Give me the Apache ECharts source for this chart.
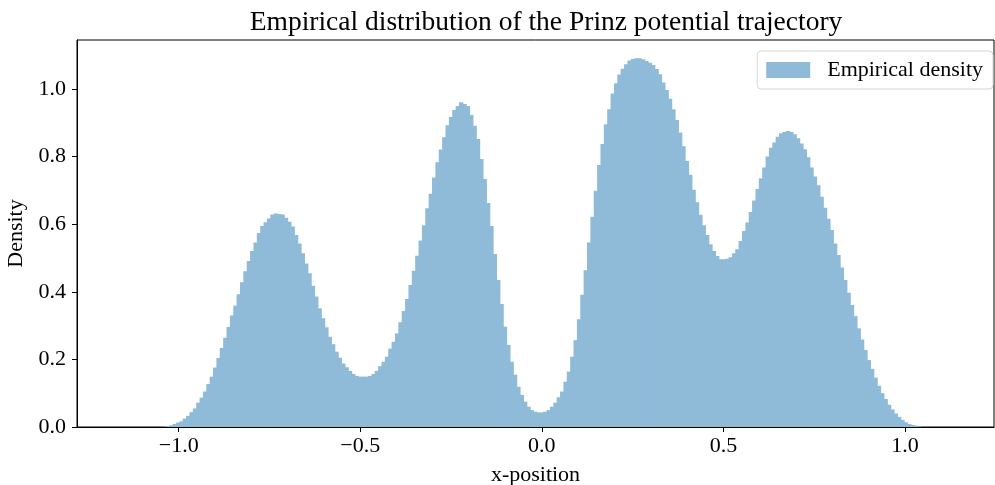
<!DOCTYPE html>
<html>
<head>
<meta charset="utf-8">
<script src="https://cdn.jsdelivr.net/npm/echarts@6/dist/echarts.min.js"></script>
<style>
  html, body { margin: 0; padding: 0; background: #fff; }
  #hist { width: 995px; height: 485px; }
</style>
</head>
<body>
<div id="hist"></div>
<script>
// histogram bins: left edge of the first bin and bin width (x-position units)
const binStart = -1.0446;
const binWidth = 0.009277;

// density per bin
const density = [
  0.001, 0.003,
  0.005, 0.009, 0.013, 0.017, 0.025, 0.033, 0.044, 0.055, 0.072, 0.087, 0.105,
  0.127, 0.149, 0.176, 0.204, 0.234, 0.264, 0.296, 0.330, 0.359, 0.393, 0.428,
  0.461, 0.491, 0.521, 0.546, 0.574, 0.595, 0.606, 0.617, 0.629, 0.632, 0.630,
  0.629, 0.619, 0.607, 0.593, 0.568, 0.543, 0.514, 0.484, 0.455, 0.418, 0.386,
  0.351, 0.322, 0.295, 0.267, 0.245, 0.223, 0.205, 0.188, 0.177, 0.166, 0.157,
  0.151, 0.149, 0.149, 0.149, 0.151, 0.157, 0.166, 0.180, 0.193, 0.208, 0.232,
  0.252, 0.277,
  0.310, 0.343, 0.379, 0.420, 0.462, 0.507, 0.552, 0.597, 0.647, 0.690, 0.738,
  0.783, 0.821, 0.857, 0.893, 0.917, 0.938, 0.950, 0.961, 0.956, 0.950, 0.923,
  0.891, 0.852, 0.793, 0.734, 0.663, 0.595, 0.512, 0.435, 0.364, 0.297, 0.243,
  0.193, 0.155,
  0.119, 0.095, 0.075, 0.060, 0.050, 0.045, 0.043, 0.043, 0.045, 0.050, 0.060,
  0.072, 0.088, 0.105, 0.134, 0.164, 0.208, 0.257, 0.319, 0.391, 0.464, 0.546,
  0.622, 0.699, 0.775, 0.837, 0.896, 0.940, 0.987, 1.017, 1.043, 1.060, 1.073,
  1.084, 1.089, 1.091,
  1.091, 1.088, 1.083, 1.078, 1.071, 1.059, 1.044, 1.019, 0.997, 0.971, 0.940,
  0.908, 0.871, 0.831, 0.787, 0.746, 0.702, 0.665, 0.628, 0.597, 0.568, 0.541,
  0.521, 0.506, 0.496, 0.496, 0.498, 0.502, 0.514, 0.526, 0.550, 0.580, 0.605,
  0.636, 0.670, 0.704,
  0.736, 0.768, 0.800, 0.826, 0.842, 0.859, 0.869, 0.873, 0.876, 0.873, 0.866,
  0.854, 0.839, 0.822, 0.798, 0.768, 0.741, 0.715, 0.681, 0.649, 0.616, 0.583,
  0.543, 0.509, 0.472, 0.435, 0.397, 0.361, 0.328, 0.292, 0.259, 0.228, 0.198,
  0.172, 0.146, 0.122, 0.100, 0.083, 0.066, 0.052, 0.040, 0.030, 0.021, 0.014,
  0.009, 0.006, 0.004, 0.002
];

const xTicks = [-1.0, -0.5, 0.0, 0.5, 1.0];
const yTicks = [0.0, 0.2, 0.4, 0.6, 0.8, 1.0];

// [left edge, right edge, density]
const bins = density.map((d, i) => [binStart + i * binWidth, binStart + (i + 1) * binWidth, d]);

const serif = 'Liberation Serif';
const fmt = v => v.toFixed(1).replace('-', '\u2212');
// C0 at alpha 0.5 over white, kept opaque so neighbouring bars leave no seams
const barColor = '#8fbbd9';

const chart = echarts.init(document.getElementById('hist'));

const option = {
  animation: false,
  backgroundColor: '#fff',
  title: {
    text: 'Empirical distribution of the Prinz potential trajectory',
    left: 541,
    top: 4,
    textAlign: 'center',
    textStyle: { fontFamily: serif, fontSize: 27.5, fontWeight: 'normal', color: '#000' }
  },
  legend: {
    right: 2,
    top: 51,
    icon: 'rect',
    itemWidth: 44,
    itemHeight: 16,
    padding: [8, 10, 8, 9],
    borderColor: '#d5d5d5',
    borderWidth: 1,
    borderRadius: 4,
    backgroundColor: 'rgba(255,255,255,0.8)',
    textStyle: { fontFamily: serif, fontSize: 22, color: '#000', padding: [0, 0, 0, 12] },
    data: ['Empirical density']
  },
  grid: {
    left: 77,
    right: 1,
    top: 40,
    bottom: 58,
    containLabel: false,
    outerBoundsMode: 'none',
    show: true,
    borderColor: '#000',
    borderWidth: 1
  },
  xAxis: {
    type: 'value',
    min: -1.28,
    max: 1.245,
    name: 'x-position',
    nameLocation: 'middle',
    nameGap: 37,
    nameTextStyle: { fontFamily: serif, fontSize: 22, color: '#000' },
    axisLine: { onZero: false, lineStyle: { color: '#000', width: 1 } },
    axisTick: { length: 5, lineStyle: { color: '#000' }, customValues: xTicks },
    axisLabel: { fontFamily: serif, fontSize: 22, color: '#000', margin: 8, customValues: xTicks, formatter: fmt },
    splitLine: { show: false }
  },
  yAxis: {
    type: 'value',
    min: 0,
    max: 1.145,
    name: 'Density',
    nameLocation: 'middle',
    nameRotate: 90,
    nameGap: 50,
    nameTextStyle: { fontFamily: serif, fontSize: 22, color: '#000' },
    axisLine: { show: true, onZero: false, lineStyle: { color: '#000', width: 1 } },
    axisTick: { show: true, length: 5, lineStyle: { color: '#000' }, customValues: yTicks },
    axisLabel: { fontFamily: serif, fontSize: 22, color: '#000', margin: 11, customValues: yTicks, formatter: fmt },
    splitLine: { show: false }
  },
  series: [
    {
      name: 'Empirical density',
      type: 'custom',
      itemStyle: { color: barColor },
      encode: { x: [0, 1], y: 2 },
      data: bins,
      renderItem: function (params, api) {
        const top = api.coord([api.value(0), api.value(2)]);
        const base = api.coord([api.value(1), 0]);
        return {
          type: 'rect',
          shape: { x: top[0], y: top[1], width: base[0] - top[0] + 1, height: base[1] - top[1] },
          style: { fill: barColor }
        };
      }
    }
  ]
};

chart.setOption(option);
</script>
</body>
</html>
